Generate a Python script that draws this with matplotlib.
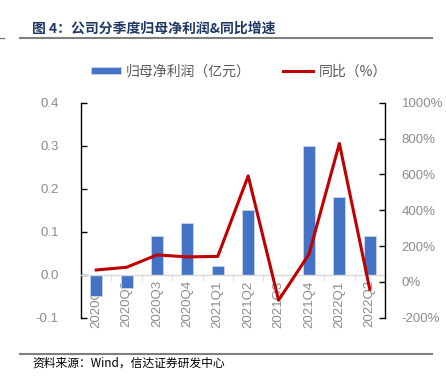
import matplotlib.pyplot as plt
import numpy as np
from matplotlib.lines import Line2D

plt.rcParams['font.family'] = ['Noto Sans CJK SC', 'DejaVu Sans']

quarters = ['2020Q1', '2020Q2', '2020Q3', '2020Q4', '2021Q1',
            '2021Q2', '2021Q3', '2021Q4', '2022Q1', '2022Q2']
profit = [-0.05, -0.03, 0.09, 0.12, 0.02, 0.15, 0.0, 0.30, 0.18, 0.09]   # 亿元
yoy = [67, 82, 151, 140, 143, 592, -102, 155, 773, -41]                  # %

left_ticks = [-0.1, 0.0, 0.1, 0.2, 0.3, 0.4]
right_ticks = [-200, 0, 200, 400, 600, 800, 1000]

blue = '#4472C4'
red = '#C00000'
grey = '#8C8C8C'

fig = plt.figure(figsize=(4.46, 3.77), dpi=100)
ax = fig.add_axes([0.1816, 0.157, 0.6816, 0.5703])
ax2 = ax.twinx()

x = np.arange(len(quarters))
ax.bar(x, profit, width=0.4, color=blue, edgecolor='#C9D6EE', linewidth=0.6,
       label='归母净利润（亿元）', zorder=2)
ax2.plot(x, yoy, color=red, linewidth=2.2, label='同比（%）', zorder=3)

ax.set_xlim(-0.5, len(quarters) - 0.5)
ax.set_ylim(-0.1, 0.4)
ax.set_yticks(left_ticks)
ax.set_yticklabels(['%.1f' % v for v in left_ticks])
ax2.set_ylim(-200, 1000)
ax2.set_yticks(right_ticks)
ax2.set_yticklabels(['%d%%' % v for v in right_ticks])

# category axis sits on the zero line
ax.spines['bottom'].set_position(('data', 0))
ax.spines['bottom'].set_color('#D9D9D9')
ax.spines['bottom'].set_linewidth(1.0)
ax.spines['top'].set_visible(False)
ax.spines['right'].set_visible(False)
ax.spines['left'].set_color('black')
ax.spines['left'].set_linewidth(1.0)
for s in ['top', 'bottom', 'left']:
    ax2.spines[s].set_visible(False)
ax2.spines['right'].set_color('black')
ax2.spines['right'].set_linewidth(1.0)

ax.set_xticks(x)
ax.set_xticklabels(quarters, rotation=90, va='top', ha='center')
ax.set_xticks(np.arange(len(quarters) + 1) - 0.5, minor=True)
ax.tick_params(axis='x', which='major', length=0, pad=4, labelsize=9.5, labelcolor=grey)
ax.tick_params(axis='x', which='minor', length=4, color='#D9D9D9', direction='out')
ax.tick_params(axis='y', direction='in', length=4, width=1, pad=16,
               labelsize=9.5, labelcolor=grey)
ax2.tick_params(axis='y', direction='in', length=4, width=1, pad=12,
                labelsize=9.5, labelcolor=grey)
for lab in ax.get_xticklabels() + ax.get_yticklabels() + ax2.get_yticklabels():
    lab.set_family(['Liberation Sans'])

ax.set_zorder(ax2.get_zorder() - 1)
ax.patch.set_visible(False)

h1, l1 = ax.get_legend_handles_labels()
h2, l2 = ax2.get_legend_handles_labels()
fig.legend(h1 + h2, l1 + l2, loc='center', bbox_to_anchor=(0.535, 0.81), ncol=2,
           frameon=False, fontsize=10, labelcolor='#595959', handlelength=2.2,
           handleheight=0.45, handletextpad=0.35, columnspacing=2.3)

# title and source
fig.text(0.072, 0.925, '图 4：公司分季度归母净利润&同比增速', fontsize=10, fontweight='bold',
         color='#1F3864', va='center', ha='left')
fig.add_artist(Line2D([0.045, 0.969], [0.90, 0.90], color='#7F7F7F', linewidth=1.5))
fig.add_artist(Line2D([0.0, 0.008], [0.90, 0.90], color='#7F7F7F', linewidth=1.0))
fig.add_artist(Line2D([0.045, 0.969], [0.061, 0.061], color='#7F7F7F', linewidth=1.5))
fig.text(0.072, 0.038, '资料来源：Wind，信达证券研发中心', fontsize=8.5, fontstyle='italic',
         color='black', va='center', ha='left')

fig.savefig('out.png', dpi=100)
